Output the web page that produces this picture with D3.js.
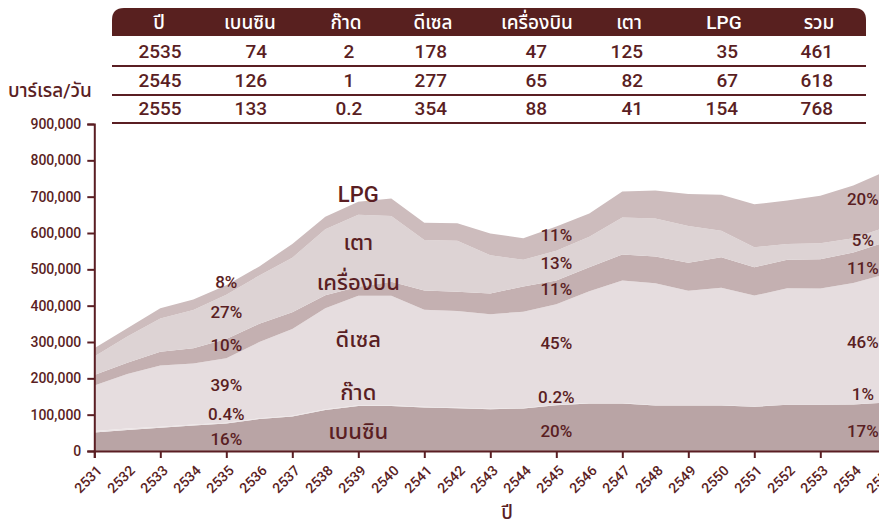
<!DOCTYPE html>
<html>
<head>
<meta charset="utf-8">
<script src="https://cdn.jsdelivr.net/npm/d3@7"></script>
<style>
  html, body { margin: 0; padding: 0; background: #ffffff; }
  svg { display: block; font-family: Roboto, "Noto Sans Thai", "Noto Sans", sans-serif; }
</style>
</head>
<body>
<script>
// ---------------- DATA (thousand barrels / day) ----------------
const years    = [2531,2532,2533,2534,2535,2536,2537,2538,2539,2540,2541,2542,2543,2544,2545,2546,2547,2548,2549,2550,2551,2552,2553,2554,2555];
const benzin   = [51,58,64,70,76,88,95,113,124,124,120,118,115,117,126,131,131,125,125,125,122,127,127,128,133];
const kerosene = [4,4,3,3,2,2,2,2,2,2,2,1.5,1.5,1.5,1,1,1,1,1,1,0.8,0.6,0.5,0.4,0.2];
const diesel   = [125,150,168,168,177,210,239,278,301,301,267,266,260,265,277,308,337,336,315,323,305,320,320,334,354];
const jet      = [29,31,38,42,53,50,46,36,25,39,53,53,57,69,65,66,72,73,77,84,78,79,80,84,88];
const fuelOil  = [51,72,92,105,122,133,150,181,198,181,139,140,105,74,82,84,102,105,101,73,55,43,44,39,41];
const lpg      = [23,23,28,29,26,25,38,35,36,48,47,48,60,59,67,64,71,77,88,99,118,120,131,145,154];

const seriesKeys   = ["benzin","kerosene","diesel","jet","fuelOil","lpg"];
const seriesNames  = ["เบนซิน","ก๊าด","ดีเซล","เครื่องบิน","เตา","LPG"];
const yTicks       = [0,100,200,300,400,500,600,700,800,900];
const xTickYears   = [2531,2533,2535,2537,2539,2541,2543,2545,2547,2549,2551,2553,2555];

const tableHeader  = ["ปี","เบนซิน","ก๊าด","ดีเซล","เครื่องบิน","เตา","LPG","รวม"];
const tableRow1    = ["2535","74","2","178","47","125","35","461"];
const tableRow2    = ["2545","126","1","277","65","82","67","618"];
const tableRow3    = ["2555","133","0.2","354","88","41","154","768"];

// share labels (text per layer, bottom to top) and where they sit (value)
const labels2535 = [["16%",33],["0.4%",102],["39%",182],["10%",292],["27%",383],["8%",465]];
const labels2539 = [["เบนซิน",55],["ก๊าด",160],["ดีเซล",306],["เครื่องบิน",465],["เตา",575],["LPG",705]];
const labels2545 = [["20%",55],["0.2%",149],["45%",297],["11%",446],["13%",517],["11%",595]];
const labels2555 = [["17%",55],["1%",157],["46%",300],["11%",504],["5%",581],["20%",694]];

// ---------------- STYLE ----------------
const W = 879, H = 524;
const ink = "#5a1e23";
const colors = {
  benzin:   "#b9a4a5",
  kerosene: "#ece5e6",
  diesel:   "#e6dddf",
  jet:      "#c4b0b1",
  fuelOil:  "#ddd3d4",
  lpg:      "#cdbcbd"
};

const svg = d3.select("body").append("svg").attr("width", W).attr("height", H);

const x = d3.scaleLinear().domain([2531, 2555]).range([94.3, 886.3]);
const y = d3.scaleLinear().domain([0, 900]).range([451, 124]);

// ---------------- STACKED AREAS ----------------
const rows = years.map((yr, i) => ({
  year: yr, benzin: benzin[i], kerosene: kerosene[i], diesel: diesel[i],
  jet: jet[i], fuelOil: fuelOil[i], lpg: lpg[i]
}));
const stacked = d3.stack().keys(seriesKeys)(rows);
const area = d3.area()
  .x(d => x(d.data.year))
  .y0(d => y(d[0]))
  .y1(d => y(d[1]));

svg.append("g").selectAll("path")
  .data(stacked).join("path")
  .attr("d", area)
  .attr("fill", d => colors[d.key]);

// ---------------- AXES ----------------
const yAxis = d3.axisLeft(y).tickValues(yTicks).tickSize(7).tickPadding(6)
  .tickFormat(d => d3.format(",")(d * 1000));
const gy = svg.append("g").attr("transform", "translate(94.3,0)").call(yAxis);
gy.select(".domain").attr("stroke", ink).attr("stroke-width", 2);
gy.selectAll(".tick line").attr("stroke", ink).attr("stroke-width", 2);
gy.selectAll(".tick text").attr("fill", ink).attr("font-size", 14).attr("font-weight", 500)
  .attr("font-family", "Roboto, sans-serif");

const xAxis = d3.axisBottom(x).tickValues(xTickYears).tickSize(7).tickFormat("");
const gx = svg.append("g").attr("transform", "translate(0,451)").call(xAxis);
gx.select(".domain").attr("stroke", ink).attr("stroke-width", 2);
gx.selectAll(".tick line").attr("stroke", ink).attr("stroke-width", 2);

svg.append("g").selectAll("text")
  .data(years).join("text")
  .attr("transform", d => `translate(${x(d) + 5},${468}) rotate(-45)`)
  .attr("text-anchor", "end")
  .attr("dy", "0.35em")
  .attr("fill", ink)
  .attr("font-size", 14)
  .attr("font-weight", 500)
  .text(d => d);

svg.append("text").attr("x", 507).attr("y", 512)
  .attr("text-anchor", "middle").attr("dominant-baseline", "central")
  .attr("fill", ink).attr("font-size", 19).attr("font-weight", 500).text("ปี");

svg.append("text").attr("x", 8).attr("y", 90)
  .attr("dominant-baseline", "central")
  .attr("fill", ink).attr("font-size", 19).attr("font-weight", 500).text("บาร์เรล/วัน");

// ---------------- IN-CHART LABELS ----------------
function labelGroup(data, yr, size) {
  svg.append("g").selectAll("text")
    .data(data).join("text")
    .attr("x", x(yr))
    .attr("y", d => y(d[1]))
    .attr("text-anchor", "middle")
    .attr("dominant-baseline", "central")
    .attr("fill", ink)
    .attr("font-size", size)
    .attr("font-weight", 500)
    .text(d => d[0]);
}
labelGroup(labels2535, 2535, 17);
labelGroup(labels2539, 2539, 22);
labelGroup(labels2545, 2545, 17);
labelGroup(labels2555, 2554.29, 17);

// ---------------- TABLE ----------------
const tl = 112, tr = 866, r = 12;
svg.append("path")
  .attr("d", `M${tl},36 V${8 + r} Q${tl},8 ${tl + r},8 H${tr - r} Q${tr},8 ${tr},${8 + r} V36 Z`)
  .attr("fill", "#58201f");

const headerX = [159, 250, 346, 433, 537, 629, 724, 819];
svg.append("g").selectAll("text")
  .data(tableHeader).join("text")
  .attr("x", (d, i) => headerX[i]).attr("y", 22)
  .attr("text-anchor", "middle").attr("dominant-baseline", "central")
  .attr("fill", "#ffffff").attr("font-size", 19).attr("font-weight", 500)
  .text(d => d);

const cellX = [160, 267, 349, 447, 547, 643, 738, 833];
const cellAnchor = ["middle", "end", "middle", "end", "end", "end", "end", "end"];
const rowY = [51, 80, 108];
[tableRow1, tableRow2, tableRow3].forEach((row, ri) => {
  svg.append("g").selectAll("text")
    .data(row).join("text")
    .attr("x", (d, i) => cellX[i]).attr("y", rowY[ri])
    .attr("text-anchor", (d, i) => cellAnchor[i]).attr("dominant-baseline", "central")
    .attr("fill", ink).attr("font-size", 19).attr("font-weight", 500)
    .text(d => d);
});
[66, 95, 123].forEach(ly => {
  svg.append("line").attr("x1", tl).attr("x2", tr).attr("y1", ly).attr("y2", ly)
    .attr("stroke", ink).attr("stroke-width", 2);
});
</script>
</body>
</html>
